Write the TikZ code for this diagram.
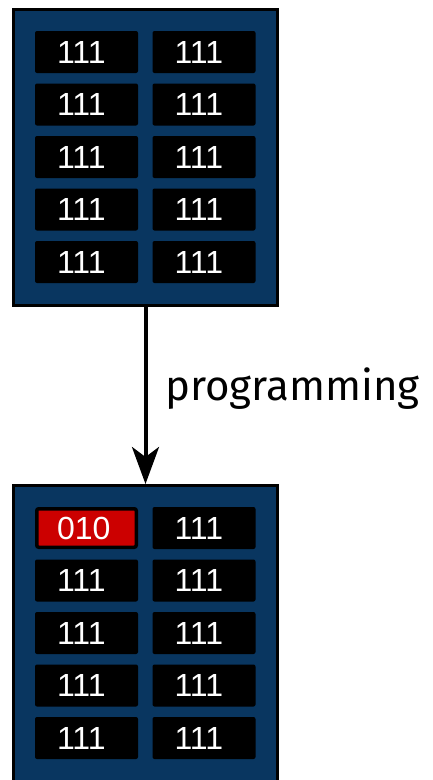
\documentclass[tikz,border=0pt]{standalone}
\usepackage{fontspec}
\setmainfont{Fira Sans}
\newfontfamily\bitfont{Liberation Sans}
\usetikzlibrary{arrows.meta}

\definecolor{bankblue}{RGB}{9,54,96}
\definecolor{flipred}{RGB}{204,0,0}

\tikzset{
    bank/.style={draw=black, fill=bankblue, line width=3pt, minimum width=264pt, minimum height=296pt, inner sep=0pt},
    cell/.style={fill=black, rounded corners=2pt, text=white, font={\bitfont\fontsize{32}{32}\selectfont}, text width=59pt, inner xsep=22pt, inner ysep=0pt, minimum height=42pt, align=left},
    flipped/.style={cell, fill=flipred, draw=black, line width=3.5pt, inner xsep=20.25pt, minimum height=38.5pt},
    flow/.style={line width=4pt, -{Stealth[length=37pt, width=27pt, inset=10pt]}},
}

\begin{document}
\begin{tikzpicture}[x=1pt, y=-1pt]

    \useasboundingbox (0,0) rectangle (432,780);

    % memory before
    \node[bank] (B0) at (145.5,157.5) {};

    \node[cell] (B0c11) at (86.5,52)  {111};
    \node[cell] (B0c12) at (204,52)   {111};
    \node[cell] (B0c21) at (86.5,104.5) {111};
    \node[cell] (B0c22) at (204,104.5)  {111};
    \node[cell] (B0c31) at (86.5,157) {111};
    \node[cell] (B0c32) at (204,157)  {111};
    \node[cell] (B0c41) at (86.5,209.5) {111};
    \node[cell] (B0c42) at (204,209.5)  {111};
    \node[cell] (B0c51) at (86.5,262) {111};
    \node[cell] (B0c52) at (204,262)  {111};

    % memory after
    \node[bank] (B1) at (145.5,633.5) {};

    \node[flipped] (B1c11) at (86.5,528) {010};
    \node[cell] (B1c12) at (204,528)   {111};
    \node[cell] (B1c21) at (86.5,580.5) {111};
    \node[cell] (B1c22) at (204,580.5)  {111};
    \node[cell] (B1c31) at (86.5,633) {111};
    \node[cell] (B1c32) at (204,633)  {111};
    \node[cell] (B1c41) at (86.5,685.5) {111};
    \node[cell] (B1c42) at (204,685.5)  {111};
    \node[cell] (B1c51) at (86.5,738) {111};
    \node[cell] (B1c52) at (204,738)  {111};

    \draw[flow] (B0.south) -- node[anchor=base west, xshift=18pt, yshift=-4.5pt, inner sep=0pt, font=\fontsize{42}{42}\selectfont] (prog) {programming} (B1.north);

\end{tikzpicture}
\end{document}
